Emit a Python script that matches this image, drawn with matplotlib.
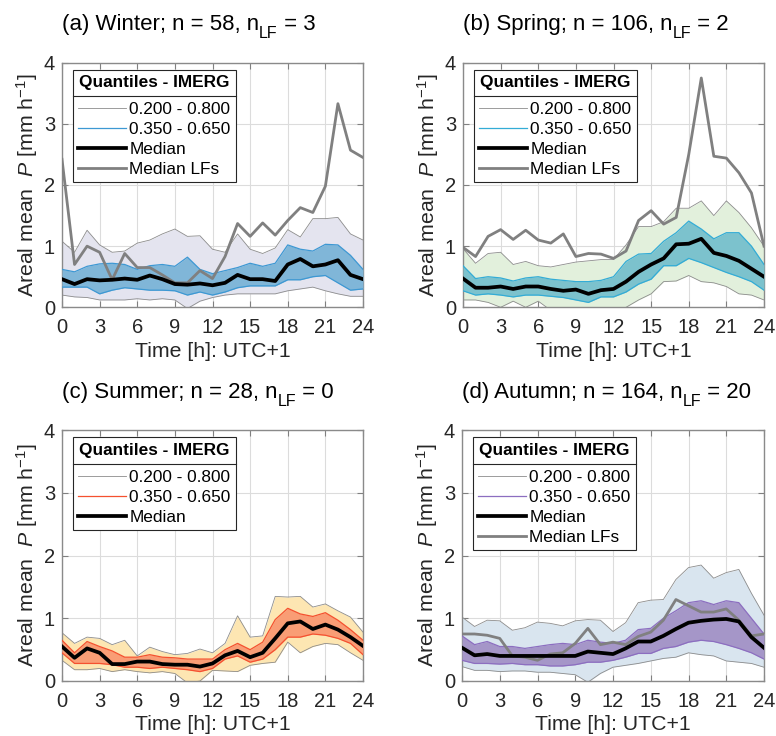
import matplotlib.pyplot as plt
from matplotlib.lines import Line2D
import numpy as np

plt.rcParams["font.family"] = ["Liberation Sans", "DejaVu Sans"]
plt.rcParams["mathtext.fontset"] = "custom"
plt.rcParams["mathtext.rm"] = "Liberation Sans"
plt.rcParams["mathtext.it"] = "Liberation Sans:italic"

hours = np.arange(25)

# Winter
win_med = [0.46, 0.38, 0.46, 0.44, 0.45, 0.47, 0.45, 0.52, 0.46, 0.38, 0.37, 0.39, 0.36,
           0.40, 0.53, 0.46, 0.46, 0.43, 0.70, 0.79, 0.67, 0.70, 0.77, 0.53, 0.46]
win_lf = [2.42, 0.70, 1.00, 0.90, 0.45, 0.88, 0.65, 0.65, 0.53, 0.40, 0.40, 0.60, 0.47,
          0.83, 1.37, 1.16, 1.38, 1.18, 1.42, 1.63, 1.55, 1.98, 3.33, 2.57, 2.45]
win_q80 = [1.08, 0.90, 1.26, 1.02, 0.90, 0.92, 1.05, 1.10, 1.20, 1.28, 1.16, 1.17, 0.95,
           0.90, 1.20, 0.95, 0.88, 0.97, 1.27, 1.15, 1.45, 1.45, 1.47, 1.20, 1.10]
win_q20 = [0.20, 0.17, 0.16, 0.12, 0.12, 0.12, 0.14, 0.12, 0.14, 0.12, -0.02, 0.10, 0.16,
           0.20, 0.22, 0.22, 0.22, 0.22, 0.27, 0.30, 0.33, 0.27, 0.22, 0.18, 0.18]
win_q65 = [0.62, 0.58, 0.67, 0.71, 0.72, 0.70, 0.62, 0.68, 0.70, 0.67, 0.82, 0.62, 0.55,
           0.60, 0.65, 0.72, 0.67, 0.72, 1.02, 0.95, 0.92, 1.03, 1.02, 0.85, 0.62]
win_q35 = [0.33, 0.33, 0.33, 0.22, 0.28, 0.32, 0.30, 0.28, 0.28, 0.27, 0.20, 0.25, 0.20,
           0.25, 0.32, 0.35, 0.35, 0.35, 0.45, 0.45, 0.50, 0.52, 0.40, 0.28, 0.30]

# Spring
spr_med = [0.47, 0.32, 0.32, 0.34, 0.30, 0.34, 0.34, 0.30, 0.27, 0.29, 0.22, 0.28, 0.30,
           0.42, 0.58, 0.70, 0.80, 1.03, 1.04, 1.12, 0.89, 0.84, 0.76, 0.63, 0.50]
spr_lf = [0.98, 0.83, 1.16, 1.27, 1.11, 1.26, 1.10, 1.05, 1.20, 0.83, 0.88, 0.87, 0.80,
          0.92, 1.42, 1.58, 1.36, 1.47, 2.50, 3.75, 2.47, 2.44, 2.20, 1.87, 1.00]
spr_q80 = [0.96, 0.72, 0.88, 0.90, 0.70, 0.75, 0.68, 0.66, 0.70, 0.74, 0.76, 0.78, 0.78,
           1.02, 1.32, 1.32, 1.40, 1.62, 1.62, 1.74, 1.50, 1.74, 1.55, 1.30, 1.00]
spr_q20 = [0.12, 0.12, 0.08, 0.00, 0.10, 0.00, 0.10, -0.05, -0.05, -0.05, -0.05, -0.05, -0.05,
           0.00, 0.12, 0.22, 0.42, 0.43, 0.52, 0.42, 0.40, 0.34, 0.22, 0.20, 0.12]
spr_q65 = [0.68, 0.47, 0.50, 0.48, 0.43, 0.48, 0.50, 0.46, 0.44, 0.42, 0.42, 0.44, 0.50,
           0.75, 0.87, 0.88, 1.08, 1.22, 1.41, 1.28, 1.12, 1.22, 1.22, 1.00, 0.70]
spr_q35 = [0.27, 0.20, 0.22, 0.20, 0.17, 0.20, 0.20, 0.18, 0.16, 0.12, 0.08, 0.17, 0.17,
           0.25, 0.38, 0.46, 0.68, 0.68, 0.80, 0.73, 0.65, 0.57, 0.50, 0.42, 0.28]

# Summer
sum_med = [0.55, 0.37, 0.52, 0.45, 0.27, 0.27, 0.31, 0.31, 0.27, 0.26, 0.26, 0.23, 0.28,
           0.41, 0.48, 0.38, 0.45, 0.68, 0.92, 0.95, 0.83, 0.90, 0.82, 0.70, 0.56]
sum_q80 = [0.77, 0.60, 0.70, 0.68, 0.58, 0.65, 0.40, 0.54, 0.47, 0.42, 0.44, 0.51, 0.45,
           0.60, 1.04, 0.70, 0.72, 1.35, 1.34, 1.35, 1.18, 1.23, 1.12, 1.02, 0.78]
sum_q20 = [0.33, 0.18, 0.18, 0.20, 0.15, 0.18, 0.15, 0.13, 0.15, 0.12, -0.03, 0.00, 0.17,
           0.16, 0.15, 0.25, 0.28, 0.30, 0.62, 0.45, 0.55, 0.60, 0.58, 0.45, 0.33]
sum_q65 = [0.65, 0.45, 0.63, 0.55, 0.48, 0.38, 0.38, 0.42, 0.38, 0.37, 0.35, 0.35, 0.35,
           0.50, 0.60, 0.50, 0.62, 0.98, 1.16, 1.07, 1.03, 1.09, 0.97, 0.82, 0.65]
sum_q35 = [0.45, 0.28, 0.28, 0.28, 0.26, 0.22, 0.22, 0.20, 0.22, 0.20, 0.18, 0.15, 0.20,
           0.35, 0.40, 0.30, 0.35, 0.50, 0.70, 0.70, 0.75, 0.73, 0.68, 0.60, 0.42]

# Autumn
aut_med = [0.53, 0.41, 0.43, 0.40, 0.40, 0.40, 0.40, 0.40, 0.40, 0.40, 0.47, 0.45, 0.43,
           0.52, 0.63, 0.63, 0.72, 0.83, 0.93, 0.96, 0.98, 0.99, 0.95, 0.70, 0.53]
aut_lf = [0.75, 0.75, 0.73, 0.68, 0.40, 0.38, 0.33, 0.43, 0.45, 0.60, 0.84, 0.58, 0.62,
          0.58, 0.71, 0.78, 0.97, 1.30, 1.20, 1.10, 1.10, 1.15, 0.97, 0.72, 0.75]
aut_q80 = [1.02, 0.87, 0.97, 0.96, 0.81, 0.85, 0.94, 0.92, 0.88, 0.96, 0.98, 0.97, 0.79,
           0.93, 1.25, 1.29, 1.30, 1.62, 1.81, 1.85, 1.64, 1.73, 1.78, 1.40, 1.05]
aut_q20 = [0.23, 0.17, 0.17, 0.15, 0.16, 0.16, 0.14, 0.14, 0.12, 0.10, -0.02, 0.12, 0.22,
           0.25, 0.28, 0.32, 0.36, 0.38, 0.45, 0.42, 0.40, 0.32, 0.30, 0.28, 0.22]
aut_q65 = [0.72, 0.58, 0.63, 0.55, 0.55, 0.52, 0.55, 0.58, 0.60, 0.58, 0.65, 0.62, 0.60,
           0.65, 0.82, 0.84, 1.00, 1.12, 1.25, 1.28, 1.22, 1.28, 1.25, 1.00, 0.75]
aut_q35 = [0.33, 0.28, 0.28, 0.27, 0.28, 0.26, 0.26, 0.24, 0.24, 0.26, 0.30, 0.30, 0.33,
           0.38, 0.44, 0.44, 0.52, 0.55, 0.62, 0.65, 0.63, 0.58, 0.52, 0.45, 0.35]

# title pieces: (before subscript, subscript, after subscript)
titles = [
    ("(a) Winter; n = 58, n", "LF", " = 3"),
    ("(b) Spring; n = 106, n", "LF", " = 2"),
    ("(c) Summer; n = 28, n", "LF", " = 0"),
    ("(d) Autumn; n = 164, n", "LF", " = 20"),
]

panels = [
    (win_q20, win_q80, win_q35, win_q65, win_med, win_lf, "#e4e4ef", "#80b6d8", "#3d98d3"),
    (spr_q20, spr_q80, spr_q35, spr_q65, spr_med, spr_lf, "#e2f0dc", "#7cc2cd", "#33acd6"),
    (sum_q20, sum_q80, sum_q35, sum_q65, sum_med, None, "#fde6b2", "#f99d75", "#f5502f"),
    (aut_q20, aut_q80, aut_q35, aut_q65, aut_med, aut_lf, "#d9e5ef", "#a596c8", "#8c6ec0"),
]

W, H = 776, 736
fig = plt.figure(figsize=(W / 100, H / 100), dpi=100)
rects = [
    (62 / W, 1 - 307.3 / H, 301 / W, 244.6 / H),
    (463 / W, 1 - 307.3 / H, 301 / W, 244.6 / H),
    (62 / W, 1 - 681 / H, 301 / W, 250.7 / H),
    (462 / W, 1 - 681 / H, 302 / W, 250.7 / H),
]

txt_col = "#262626"
leg_fs = 12.4
legends = []
title_parts = []
for rect, ttl, (q20, q80, q35, q65, med, lf, c_out, c_in, c_edge) in zip(rects, titles, panels):
    ax = fig.add_axes(rect)
    ax.fill_between(hours, q20, q80, color=c_out, lw=0, zorder=1)
    ax.plot(hours, q20, color="#8c8c8c", lw=0.6, zorder=2)
    ax.plot(hours, q80, color="#8c8c8c", lw=0.6, zorder=2)
    ax.fill_between(hours, q35, q65, color=c_in, lw=0, zorder=3)
    ax.plot(hours, q35, color=c_edge, lw=0.9, zorder=4)
    ax.plot(hours, q65, color=c_edge, lw=0.9, zorder=4)
    ax.plot(hours, med, color="black", lw=2.7, zorder=6)
    handles = [
        Line2D([], [], color="#8c8c8c", lw=0.6),
        Line2D([], [], color=c_edge, lw=0.9),
        Line2D([], [], color="black", lw=2.7),
    ]
    labels = ["0.200 - 0.800", "0.350 - 0.650", "Median"]
    if lf is not None:
        ax.plot(hours, lf, color="#808080", lw=2.0, zorder=5)
        handles.append(Line2D([], [], color="#808080", lw=2.0))
        labels.append("Median LFs")

    ax.set_xlim(0, 24)
    ax.set_ylim(0, 4)
    ax.set_xticks(range(0, 25, 3))
    ax.set_yticks(range(0, 5))
    ax.grid(True, color="#dcdcdc", lw=0.8)
    ax.set_axisbelow(True)
    ax.tick_params(direction="in", top=True, right=True, length=4, width=0.8,
                   labelsize=14.5, colors=txt_col, color="#808080")
    ax.tick_params(axis="x", pad=8)
    ax.tick_params(axis="y", pad=5)
    for s in ax.spines.values():
        s.set_color("#8a8a8a")
        s.set_linewidth(1.0)
    ax.set_xlabel("Time [h]: UTC+1", fontsize=15.3, color=txt_col, labelpad=3)
    ax.set_ylabel("Areal mean  $\\mathit{P}$ [mm h$^{-1}$]", fontsize=15.3, color=txt_col, labelpad=3)

    # title left aligned above the axes, MATLAB-like subscript built from pieces
    ty = rect[1] + rect[3] + 32.6 / H
    t0 = fig.text(rect[0], ty, ttl[0], fontsize=16.0, va="baseline", ha="left")
    title_parts.append((t0, ty, ttl[1], ttl[2]))

    leg = ax.legend(handles, labels, title="Quantiles - IMERG", loc="upper left",
                    bbox_to_anchor=(11 / 301, 1 - 7 / 244.6), borderaxespad=0,
                    fontsize=leg_fs, title_fontproperties={"weight": "bold", "size": leg_fs},
                    frameon=True, fancybox=False, framealpha=1, edgecolor="#262626",
                    handlelength=2.8, handletextpad=0.17, labelspacing=0.28,
                    borderpad=0.3)
    leg._legend_box.sep = 9.0
    leg.get_frame().set_linewidth(0.8)
    leg.set_zorder(10)
    legends.append(leg)

fig.canvas.draw()
renderer = fig.canvas.get_renderer()
inv = fig.transFigure.inverted()

for t0, ty, sub, rest in title_parts:
    bb = t0.get_window_extent(renderer)
    x1 = inv.transform((bb.x1, 0))[0]
    t1 = fig.text(x1, ty - 8 / H, sub, fontsize=11.5, va="baseline", ha="left")
    fig.canvas.draw()
    bb1 = t1.get_window_extent(renderer)
    x2 = inv.transform((bb1.x1, 0))[0]
    fig.text(x2, ty, rest, fontsize=16.0, va="baseline", ha="left")

# MATLAB-style separator under the legend title
for leg in legends:
    fb = leg.get_frame().get_window_extent(renderer)
    tb = leg.get_title().get_window_extent(renderer)
    y = tb.y0 - 6
    (x0, yf), (x1, _) = inv.transform([(fb.x0, y), (fb.x1, y)])
    fig.add_artist(Line2D([x0, x1], [yf, yf], color="#262626", lw=0.8, zorder=20))

fig.savefig("out.png", dpi=100)
